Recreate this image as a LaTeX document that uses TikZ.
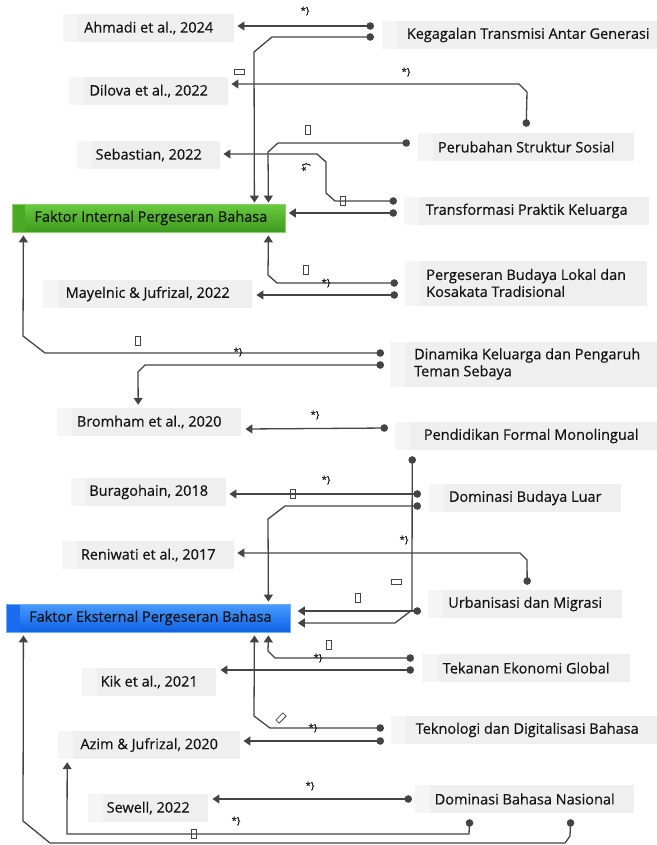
\documentclass[tikz,border=0pt]{standalone}
\usepackage{fontspec}
\setmainfont{Open Sans}
\newfontfamily\boxfont{Open Sans}[FakeBold=0.5]
\usetikzlibrary{arrows.meta,calc}
\definecolor{boxgray}{HTML}{EFEFEF}
\definecolor{stripgray}{HTML}{F5F5F5}
\definecolor{linegray}{HTML}{444444}
\definecolor{greentop}{HTML}{6ACB40}
\definecolor{greenbot}{HTML}{3E9A1E}
\definecolor{greenstrip}{HTML}{4AAA26}
\definecolor{greenborder}{HTML}{8FD06A}
\definecolor{bluetop}{HTML}{4A9BFF}
\definecolor{bluebot}{HTML}{0E62E4}
\definecolor{bluestrip}{HTML}{1A6CF0}
\definecolor{blueborder}{HTML}{6AB0FF}
\tikzset{
  box/.style={fill=boxgray, minimum height=28pt, inner sep=0pt, anchor=west,
    text=black!92, font=\boxfont\fontsize{14.5}{17}\selectfont, align=left,
    path picture={\fill[stripgray] (path picture bounding box.north west) rectangle ([xshift=15pt]path picture bounding box.south west);}},
  greenbox/.style={box, draw=greenborder, line width=0.8pt, top color=greentop, bottom color=greenbot,
    path picture={\fill[greenstrip] (path picture bounding box.north west) rectangle ([xshift=13pt]path picture bounding box.south west);}},
  bluebox/.style={box, draw=blueborder, line width=0.8pt, top color=bluetop, bottom color=bluebot,
    path picture={\fill[bluestrip] (path picture bounding box.north west) rectangle ([xshift=14pt]path picture bounding box.south west);}},
  conn/.style={draw=linegray, line width=1.3pt, arrows={Circle[length=7.5pt]-Triangle[length=7pt,width=9pt]}},
  lab/.style={font=\boxfont\fontsize{9.5}{10}\selectfont, text=black!90, inner sep=0pt},
  tofu/.style={draw=linegray, line width=0.8pt, minimum width=4.5pt, minimum height=8.5pt, inner sep=0pt},
  htofu/.style={draw=linegray, line width=0.8pt, minimum width=10pt, minimum height=4.5pt, inner sep=0pt}
}
\begin{document}
\begin{tikzpicture}[x=1pt,y=-1pt]
\useasboundingbox (0,0) rectangle (656,845);
% left column
\node[box, minimum width=171pt] (ahmadi) at (63,28) {Ahmadi et al., 2024};
\node[box, minimum width=159pt] (dilova) at (69,91) {Dilova et al., 2022};
\node[box, minimum width=143pt] (sebastian) at (77,155) {Sebastian, 2022};
\node[greenbox, minimum width=273pt] (internal) at (12,218) {\hspace*{4pt}Faktor Internal Pergeseran Bahasa};
\node[box, minimum width=209pt] (mayelnic) at (43,294) {Mayelnic \& Jufrizal, 2022};
\node[box, minimum width=184pt] (bromham) at (57,422) {Bromham et al., 2020};
\node[box, minimum width=155pt] (buragohain) at (71,492) {Buragohain, 2018};
\node[box, minimum width=172pt] (reniwati) at (62,555) {Reniwati et al., 2017};
\node[bluebox, minimum width=284pt] (eksternal) at (6,618) {\hspace*{4pt}Faktor Eksternal Pergeseran Bahasa};
\node[box, minimum width=134pt] (kik) at (82,682) {Kik et al., 2021};
\node[box, minimum width=182pt] (azim) at (58,745) {Azim \& Jufrizal, 2020};
\node[box, minimum width=120pt] (sewell) at (88,808) {Sewell, 2022};
% right column
\node[box, minimum width=292pt] (keg) at (382,35) {Kegagalan Transmisi Antar Generasi};
\node[box, minimum width=216pt] (peru) at (418,147) {Perubahan Struktur Sosial};
\node[box, minimum width=245pt] (trans) at (404,211) {Transformasi Praktik Keluarga};
\node[box, minimum width=242pt, minimum height=45pt] (perg) at (405,283) {Pergeseran Budaya Lokal dan\\Kosakata Tradisional};
\node[box, minimum width=274pt, minimum height=45pt] (dina) at (390,364) {Dinamika Keluarga dan Pengaruh\\Teman Sebaya};
\node[box, minimum width=272pt] (pend) at (395,436) {Pendidikan Formal Monolingual};
\node[box, minimum width=192pt] (domb) at (429,498) {Dominasi Budaya Luar};
\node[box, minimum width=194pt] (urb) at (428,604) {Urbanisasi dan Migrasi};
\node[box, minimum width=208pt] (tek) at (422,668) {Tekanan Ekonomi Global};
\node[box, minimum width=272pt] (tekn) at (391,730) {Teknologi dan Digitalisasi Bahasa};
\node[box, minimum width=219pt] (domn) at (415,799) {Dominasi Bahasa Nasional};
% connectors
\draw[conn] ($(keg.west)+(-8,-9)$) -- ($(ahmadi.east)+(3,-2)$);
\draw[conn] ($(keg.west)+(-8,2)$) -- (272,37) -- (254,52) -- ($(internal.north)+(105.5,-1)$);
\draw[conn] ($(peru.north)+(0,-6)$) -- (527,92) -- (519,84) -- ($(dilova.east)+(3,-7)$);
\draw[conn] ($(peru.west)+(-8,-4)$) -- (278,143) -- (268,152) -- ($(internal.north)+(119.5,-1)$);
\draw[conn] ($(trans.west)+(-7,-10)$) -- (335,201) -- (326,193) -- (326,162) -- (317,154) -- ($(sebastian.east)+(3,-1)$);
\draw[conn] ($(trans.west)+(-7,2)$) -- ($(internal.east)+(3,-5)$);
\draw[conn] ($(perg.west)+(-7,0)$) -- (277,283) -- (268,275) -- ($(internal.south)+(119.5,3)$);
\draw[conn] ($(perg.west)+(-7,12)$) -- ($(mayelnic.east)+(4,1)$);
\draw[conn] ($(dina.west)+(-6,-11)$) -- (45,353) -- (23,336) -- ($(internal.south)+(-125.5,3)$);
\draw[conn] ($(dina.west)+(-6,1)$) -- (145,365) -- (138,372) -- ($(bromham.north)+(-11,-3)$);
\draw[conn] ($(pend.west)+(-7,-8)$) -- ($(bromham.east)+(4,7)$);
\draw[conn] ($(pend.south)+(-119,6)$) -- (412,610) -- (395,623) -- ($(eksternal.east)+(7,5)$);
\draw[conn] ($(urb.west)+(-7,7)$) -- ($(eksternal.east)+(7,-7)$);
\draw[conn] ($(domb.west)+(-8,-4)$) -- ($(buragohain.east)+(3,2)$);
\draw[conn] ($(domb.west)+(-8,8)$) -- (285,506) -- (268,519) -- ($(eksternal.north)+(120,-2)$);
\draw[conn] ($(urb.north)+(2,-5)$) -- (527,560) -- (520,553) -- ($(reniwati.east)+(3,-2)$);
\draw[conn] ($(tek.west)+(-8,-10)$) -- (275,658) -- (268,651) -- ($(eksternal.south)+(120,3)$);
\draw[conn] ($(tek.west)+(-8,2)$) -- ($(kik.east)+(4,-12)$);
\draw[conn] ($(tekn.west)+(-7,-2)$) -- (270,728) -- (254,716) -- ($(eksternal.south)+(106,3)$);
\draw[conn] ($(tekn.west)+(-7,11)$) -- ($(azim.east)+(3,-4)$);
\draw[conn] ($(domn.west)+(-3,0)$) -- ($(sewell.east)+(4,-9)$);
\draw[conn] ($(domn.south)+(-55,6)$) -- (469,834) -- (67,834) -- ($(azim.south)+(-82,3)$);
\draw[conn] ($(domn.south)+(46,6)$) -- (570,836) -- (565,843) -- (50,843) -- (23,821) -- ($(eksternal.south)+(-125,3)$);
% labels
\node[lab] (l1) at (305,11) {*\}};
\node[htofu] (t1) at (239,72) {};
\node[lab] (l2) at (406,72) {*\}};
\node[tofu] (t2) at (308,130) {};
\node[tofu] (t3) at (343,201) {};
\node[lab, rotate=90] (l3) at (306,167) {*\}};
\node[tofu] (t4) at (306,270) {};
\node[lab] (l4) at (326,283) {*\}};
\node[tofu] (t5) at (138,341) {};
\node[lab] (l5) at (238,352) {*\}};
\node[lab] (l6) at (315,415) {*\}};
\node[tofu] (t6) at (293,494) {};
\node[lab] (l7) at (326,480) {*\}};
\node[lab] (l8) at (404,540) {*\}};
\node[htofu] (t7) at (396,582) {};
\node[tofu] (t8) at (358,598) {};
\node[tofu] (t9) at (329,645) {};
\node[lab] (l9) at (318,658) {*\}};
\node[htofu, rotate=45] (t10) at (281,718) {};
\node[lab] (l10) at (313,728) {*\}};
\node[lab] (l11) at (310,786) {*\}};
\node[lab] (l12) at (236,821) {*\}};
\node[tofu] (t11) at (194,834) {};
\end{tikzpicture}
\end{document}
